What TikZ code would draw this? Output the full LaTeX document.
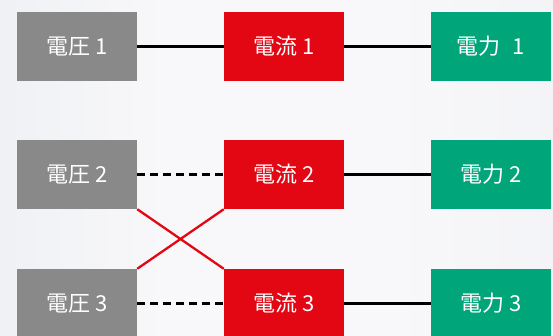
\documentclass[tikz,border=0pt]{standalone}
\usepackage{fontspec}
\setmainfont{Noto Sans CJK JP}
\definecolor{boxgray}{RGB}{137,137,137}
\definecolor{boxred}{RGB}{227,7,20}
\definecolor{boxgreen}{RGB}{0,165,122}
\definecolor{bgA}{RGB}{226,229,235}
\definecolor{bgB}{RGB}{248,248,250}
\definecolor{bgC}{RGB}{236,238,243}
\pgfdeclarehorizontalshading{bgshade}{100bp}{color(0bp)=(bgA); color(40bp)=(bgB); color(60bp)=(bgB); color(100bp)=(bgC)}
\begin{document}
\begin{tikzpicture}[x=1pt,y=-1pt,
  cell/.style={minimum width=120pt,minimum height=69pt,inner sep=0pt,text=white,font=\fontsize{22pt}{26pt}\selectfont},
  vbox/.style={cell,fill=boxgray},
  ibox/.style={cell,fill=boxred},
  pbox/.style={cell,fill=boxgreen},
  link/.style={line width=2.3pt,black},
  dlink/.style={line width=2.3pt,black,dash pattern=on 8pt off 5pt},
  xlink/.style={line width=2.3pt,boxred}]
\useasboundingbox (0,0) rectangle (553,336);
\shade[shading=bgshade] (0,0) rectangle (553,336);
\node[vbox] (v1) at (77,46.5) {電圧 1};
\node[ibox] (i1) at (284,46.5) {電流 1};
\node[pbox] (p1) at (491,46.5) {電力\hspace{0.55em}1};
\node[vbox] (v2) at (77,174.5) {電圧 2};
\node[ibox] (i2) at (284,174.5) {電流 2};
\node[pbox] (p2) at (491,174.5) {電力 2};
\node[vbox] (v3) at (77,303.5) {電圧 3};
\node[ibox] (i3) at (284,303.5) {電流 3};
\node[pbox] (p3) at (491,303.5) {電力 3};
\draw[link] (v1) -- (i1);
\draw[link] (i1) -- (p1);
\draw[dlink] (v2) -- (i2);
\draw[link] (i2) -- (p2);
\draw[dlink] (v3) -- (i3);
\draw[link] (i3) -- (p3);
\draw[xlink] (v2.south east) -- (i3.north west);
\draw[xlink] (v3.north east) -- (i2.south west);
\end{tikzpicture}
\end{document}
